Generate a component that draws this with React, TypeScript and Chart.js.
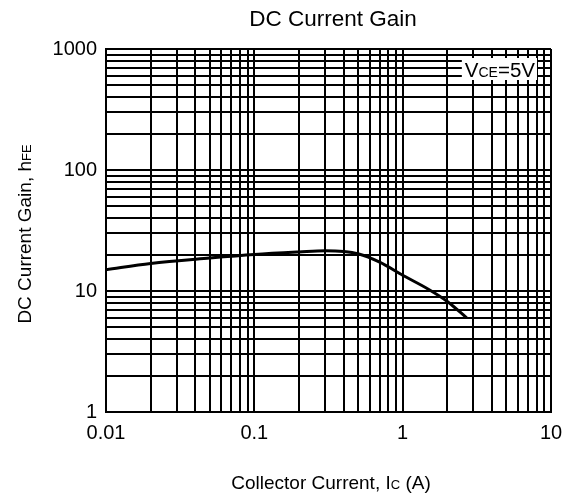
import React, { useEffect, useRef } from "react";
import { Chart, registerables } from "chart.js";

Chart.register(...registerables);

// Collector current (A) and DC current gain
const collectorCurrent = [0.01, 0.02, 0.05, 0.1, 0.2, 0.3, 0.4, 0.5, 0.7, 1, 1.5, 2, 2.7];
const dcGain = [15, 16.9, 18.7, 20, 21, 21.5, 21.2, 20.3, 17.3, 13.5, 10.3, 8.2, 6];

// Grid lines and labelled ticks
const xGrid = [
  0.01, 0.02, 0.03, 0.04, 0.05, 0.06, 0.07, 0.08, 0.09,
  0.1, 0.2, 0.3, 0.4, 0.5, 0.6, 0.7, 0.8, 0.9,
  1, 2, 3, 4, 5, 6, 7, 8, 9, 10,
];
const xLabels = ["0.01", "0.1", "1", "10"];
const yGrid = [
  1, 2, 3, 4, 5, 6, 7, 8, 9,
  10, 20, 30, 40, 50, 60, 70, 80, 90,
  100, 200, 300, 400, 500, 600, 700, 800, 900, 1000,
];
const yLabels = ["1", "10", "100", "1000"];

const FONT = "'Liberation Sans', Arial, sans-serif";

function drawParts(
  ctx: CanvasRenderingContext2D,
  parts: { t: string; size: number }[],
  x: number,
  y: number,
  align: "center" | "right"
) {
  let total = 0;
  const widths = parts.map((p) => {
    ctx.font = `${p.size}px ${FONT}`;
    const w = ctx.measureText(p.t).width;
    total += w;
    return w;
  });
  let cx = align === "center" ? x - total / 2 : x - total;
  parts.forEach((p, i) => {
    ctx.font = `${p.size}px ${FONT}`;
    ctx.fillText(p.t, cx, y);
    cx += widths[i];
  });
  return total;
}

const textPlugin = {
  id: "textPlugin",
  afterDraw(chart: any) {
    const ctx: CanvasRenderingContext2D = chart.ctx;
    const area = chart.chartArea;
    ctx.save();
    ctx.fillStyle = "#000";
    ctx.textAlign = "left";
    ctx.textBaseline = "alphabetic";

    // Title
    drawParts(ctx, [{ t: "DC Current Gain", size: 22.5 }], 333, 26, "center");

    // X axis title
    drawParts(
      ctx,
      [
        { t: "Collector Current, I", size: 19 },
        { t: "C", size: 13 },
        { t: " (A)", size: 19 },
      ],
      331,
      489,
      "center"
    );

    // Y axis title
    ctx.save();
    ctx.translate(31, 234);
    ctx.rotate(-Math.PI / 2);
    drawParts(
      ctx,
      [
        { t: "DC Current Gain, h", size: 19 },
        { t: "FE", size: 13 },
      ],
      0,
      0,
      "center"
    );
    ctx.restore();

    // VCE annotation box
    const parts = [
      { t: "V", size: 20.5 },
      { t: "CE", size: 14 },
      { t: "=5V", size: 20.5 },
    ];
    let w = 0;
    parts.forEach((p) => {
      ctx.font = `${p.size}px ${FONT}`;
      w += ctx.measureText(p.t).width;
    });
    const rightX = area.right - 16;
    ctx.fillStyle = "#fff";
    ctx.fillRect(rightX - w - 3, area.top + 9, w + 5, 22);
    ctx.fillStyle = "#000";
    drawParts(ctx, parts, rightX, area.top + 28, "right");

    ctx.restore();
  },
};

export default function App() {
  const ref = useRef<HTMLCanvasElement | null>(null);

  useEffect(() => {
    if (!ref.current) return;
    const chart = new Chart(ref.current, {
      type: "line",
      data: {
        datasets: [
          {
            data: collectorCurrent.map((x, i) => ({ x, y: dcGain[i] })),
            borderColor: "#000",
            borderWidth: 3,
            pointRadius: 0,
            cubicInterpolationMode: "monotone",
            fill: false,
          },
        ],
      },
      options: {
        animation: false,
        responsive: true,
        maintainAspectRatio: false,
        layout: { padding: { left: 0, right: 21, top: 49, bottom: 0 } },
        plugins: {
          legend: { display: false },
          title: { display: false },
          tooltip: { enabled: false },
        },
        scales: {
          x: {
            type: "logarithmic",
            min: 0.01,
            max: 10,
            afterBuildTicks: (scale: any) => {
              scale.ticks = xGrid.map((v) => ({ value: v }));
            },
            afterFit: (scale: any) => {
              scale.height = 89;
            },
            ticks: {
              autoSkip: false,
              maxRotation: 0,
              padding: 9,
              color: "#000",
              font: { family: FONT, size: 20 },
              callback: (v: any) => {
                const s = String(Number(v));
                return xLabels.includes(s) ? s : "";
              },
            },
            grid: { color: "#000", lineWidth: 2, drawTicks: false },
            border: { color: "#000", width: 2 },
          },
          y: {
            type: "logarithmic",
            min: 1,
            max: 1000,
            afterBuildTicks: (scale: any) => {
              scale.ticks = yGrid.map((v) => ({ value: v }));
            },
            afterFit: (scale: any) => {
              scale.width = 106;
            },
            ticks: {
              autoSkip: false,
              padding: 9,
              color: "#000",
              font: { family: FONT, size: 20 },
              callback: (v: any) => {
                const s = String(Number(v));
                return yLabels.includes(s) ? s : "";
              },
            },
            grid: { color: "#000", lineWidth: 2, drawTicks: false },
            border: { color: "#000", width: 2 },
          },
        },
      },
      plugins: [textPlugin],
    } as any);
    return () => chart.destroy();
  }, []);

  return (
    <div style={{ position: "absolute", left: 0, top: 0, width: 572, height: 501, background: "#fff" }}>
      <canvas ref={ref} />
    </div>
  );
}
